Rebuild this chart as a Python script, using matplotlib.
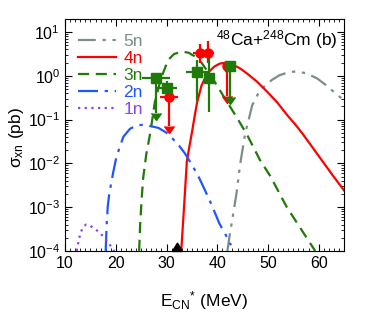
import numpy as np
import matplotlib
matplotlib.use("Agg")
import matplotlib.pyplot as plt

plt.rcParams['font.family'] = ['Liberation Sans', 'DejaVu Sans']
plt.rcParams['mathtext.fontset'] = 'custom'
plt.rcParams['mathtext.rm'] = 'Liberation Sans'
plt.rcParams['mathtext.it'] = 'Liberation Sans:italic'
plt.rcParams['mathtext.bf'] = 'Liberation Sans:bold'
plt.rcParams['font.size'] = 11.5

# calculated curves (E in MeV, log10 sigma in pb)
e5 = [42.0, 42.5, 43.0, 43.8, 44.5, 45.5, 46.9, 48.0, 49.2, 50.7, 52.2, 54.0, 55.5, 57.5, 59.7, 61.5, 63.4, 65.0]
l5 = [-4.0, -3.6, -3.26, -2.68, -2.03, -1.32, -0.67, -0.42, -0.25, -0.1, 0.01, 0.08, 0.1, 0.06, -0.06, -0.22, -0.41, -0.56]

e4 = [32.9, 33.45, 34.0, 34.5, 35.0, 35.5, 36.0, 36.9, 38.0, 39.4, 40.5, 41.7, 43.0, 44.5, 45.9,
      47.9, 49.9, 51.9, 53.8, 55.3, 56.8, 58.8, 60.8, 62.8, 65.0]
l4 = [-4.0, -3.0, -1.96, -1.62, -1.3, -0.95, -0.62, -0.22, 0.05, 0.21, 0.28, 0.30, 0.26, 0.17, 0.05,
      -0.14, -0.37, -0.62, -0.9, -1.1, -1.32, -1.64, -1.96, -2.28, -2.62]

e3 = [24.6, 24.8, 25.1, 25.4, 26.0, 26.8, 27.7, 28.4, 29.1, 30.3, 31.5, 33.0, 34.3, 35.5, 36.9,
      38.2, 39.4, 41.0, 42.5, 44.0, 45.8, 48.4, 50.5, 53.7, 56.5, 59.3]
l3 = [-4.0, -3.4, -2.8, -2.33, -1.8, -1.3, -0.6, -0.28, 0.0, 0.36, 0.5, 0.55, 0.53, 0.45, 0.3,
      0.08, -0.12, -0.42, -0.7, -0.98, -1.33, -1.92, -2.3, -3.0, -3.5, -4.0]

e2 = [18.0, 18.2, 18.4, 18.7, 19.1, 19.5, 20.0, 20.7, 21.5, 22.8, 24.0, 25.2, 26.5, 28.4, 30.0,
      31.4, 32.5, 33.6, 35.0, 36.3, 37.4, 38.9, 40.4, 41.6, 42.7]
l2 = [-4.0, -3.4, -3.0, -2.7, -2.45, -2.2, -1.92, -1.65, -1.39, -1.21, -1.14, -1.12, -1.14, -1.19, -1.3,
      -1.46, -1.6, -1.77, -2.03, -2.3, -2.57, -2.95, -3.37, -3.62, -3.87]

e1 = [12.3, 12.5, 13.0, 13.5, 14.1, 15.0, 15.9, 16.8, 17.6, 18.6, 19.5, 19.9]
l1 = [-4.0, -3.87, -3.6, -3.47, -3.4, -3.43, -3.5, -3.58, -3.68, -3.82, -3.98, -4.05]

# experimental points: 4n (red circles)
ex4 = [30.5, 36.5, 38.2, 42.0]
sx4 = [0.32, 3.4, 3.4, 1.66]
dx4 = [1.7, 1.3, 1.1, 0.0]
lo4 = [0.07, 2.0, 2.0, 0.34]
hi4 = [0.32, 5.4, 6.2, 1.66]
lim4 = [True, False, False, True]

# 3n (green squares)
ex3 = [27.9, 30.0, 36.1, 38.3, 42.5]
sx3 = [0.87, 0.52, 1.2, 0.87, 1.66]
dx3 = [2.8, 2.0, 2.2, 0.0, 0.0]
lo3 = [0.14, 0.30, 0.27, 0.15, 0.32]
hi3 = [0.87, 0.75, 2.3, 3.6, 1.66]
lim3 = [True, False, False, False, True]

e_bass = [32.0]

c5, c4, c3, c2, c1 = '#7f8c8c', '#ff0000', '#1f7a0a', '#2255ff', '#8844ee'

fig = plt.figure(figsize=(3.74, 3.2), dpi=100)
ax = fig.add_axes([0.174, 0.216, 0.746, 0.725])

ax.plot(e5, 10**np.array(l5), color=c5, lw=1.6, ls=(0, (8, 3, 1.5, 3, 1.5, 3)), label='5n')
ax.plot(e4, 10**np.array(l4), color=c4, lw=1.6, ls='-', label='4n')
ax.plot(e3, 10**np.array(l3), color=c3, lw=1.6, ls=(0, (5, 3)), label='3n')
ax.plot(e2, 10**np.array(l2), color=c2, lw=1.6, ls=(0, (9, 3, 1.5, 3)), label='2n')
ax.plot(e1, 10**np.array(l1), color=c1, lw=1.6, ls=(0, (1, 2)), label='1n')


def points(ex, sx, dx, lo, hi, lim, col, mk):
    ax.hlines(sx, np.array(ex) - np.array(dx), np.array(ex) + np.array(dx), color=col, lw=1.6, zorder=4)
    ax.vlines(ex, lo, hi, color=col, lw=1.6, zorder=4)
    for x, l, f in zip(ex, lo, lim):
        if f:
            ax.plot([x], [l], marker=11, color=col, ms=7, zorder=4)
    ax.plot(ex, sx, ls='none', marker=mk, color=col, ms=6.5, zorder=5)


points(ex4, sx4, dx4, lo4, hi4, lim4, c4, 'o')
points(ex3, sx3, dx3, lo3, hi3, lim3, c3, 's')

tri = [(-1, 0), (1, 0), (0, 1.6), (-1, 0)]
ax.plot(e_bass, [1e-4] * len(e_bass), marker=tri, color='black', ms=12, ls='none', clip_on=False, zorder=6)

ax.set_yscale('log')
ax.set_xlim(10, 65)
ax.set_ylim(1e-4, 20)
ax.set_xticks([10, 20, 30, 40, 50, 60])
ax.xaxis.set_minor_locator(matplotlib.ticker.MultipleLocator(1))
ax.yaxis.set_minor_locator(matplotlib.ticker.LogLocator(base=10, subs=np.arange(2, 10)))
ax.yaxis.set_minor_formatter(matplotlib.ticker.NullFormatter())
ax.tick_params(which='both', direction='in', top=True, right=True)
ax.tick_params(which='major', length=5)
ax.tick_params(which='minor', length=2.5)

ax.set_xlabel(r'E$_{\rm CN}{}^{*}$ (MeV)', fontsize=12.5)
ax.set_ylabel(r'σ$_{\rm xn}$ (pb)', fontsize=12.5)
ax.xaxis.set_label_coords(0.5, -0.165)
ax.yaxis.set_label_coords(-0.14, 0.49)

ax.text(0.975, 0.886, r'$^{48}$Ca+$^{248}$Cm (b)', transform=ax.transAxes, ha='right', va='baseline',
        fontsize=12.5)

leg = ax.legend(loc='upper left', bbox_to_anchor=(0.02, 0.965), frameon=False, handlelength=2.2,
                handletextpad=0.45, labelspacing=0.1, borderaxespad=0, fontsize=12.5)
for t, h in zip(leg.get_texts(), leg.get_lines()):
    t.set_color(h.get_color())

fig.savefig('out.png', dpi=100)
